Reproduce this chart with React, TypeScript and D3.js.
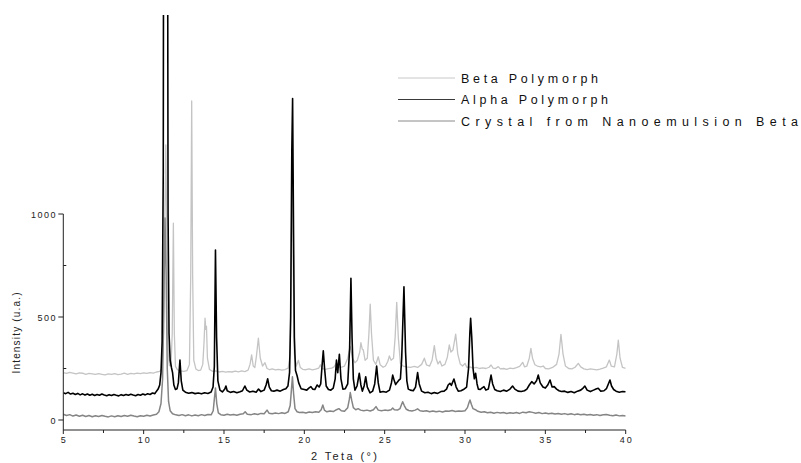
import React from "react";
import * as d3 from "d3";

// 2θ (degrees) / intensity (u.a.) pairs for each diffractogram
const betaPolymorph: [number, number][] = [
  [5.0,230],[5.2,226],[5.4,231],[5.6,228],[5.8,224],[6.0,229],[6.2,227],[6.4,222],[6.6,226],[6.8,224],[7.0,221],[7.2,225],[7.4,222],[7.6,219],[7.8,224],[8.0,221],[8.2,225],[8.4,220],[8.6,223],[8.8,227],[9.0,222],[9.2,226],[9.4,224],[9.6,228],[9.8,225],[10.0,229],[10.2,226],[10.4,230],[10.6,228],[10.8,233],[11.0,236],[11.15,250],[11.25,420],[11.32,1000],[11.38,1335],[11.44,900],[11.5,380],[11.6,265],[11.7,262],[11.78,420],[11.85,955],[11.91,420],[11.98,260],[12.1,244],[12.3,238],[12.5,236],[12.7,240],[12.85,270],[12.93,700],[12.99,1549],[13.05,700],[13.12,290],[13.25,248],[13.4,240],[13.55,242],[13.68,270],[13.76,380],[13.82,494],[13.87,440],[13.91,455],[13.97,300],[14.1,245],[14.3,236],[14.5,238],[14.7,233],[14.9,236],[15.1,232],[15.3,235],[15.5,233],[15.7,237],[15.9,234],[16.1,238],[16.3,235],[16.5,242],[16.62,270],[16.72,316],[16.82,262],[16.92,255],[17.02,310],[17.14,397],[17.26,300],[17.4,262],[17.55,278],[17.68,250],[17.85,244],[18.0,248],[18.2,243],[18.4,246],[18.6,242],[18.8,245],[19.0,252],[19.12,320],[19.2,900],[19.25,1200],[19.3,800],[19.38,320],[19.5,262],[19.63,290],[19.75,255],[19.9,246],[20.1,244],[20.3,248],[20.5,243],[20.7,247],[20.9,252],[21.0,268],[21.1,250],[21.3,246],[21.5,249],[21.7,252],[21.85,258],[22.0,277],[22.12,258],[22.3,256],[22.5,262],[22.7,300],[22.86,356],[23.0,300],[23.15,278],[23.3,290],[23.45,330],[23.52,375],[23.6,345],[23.67,340],[23.78,290],[23.92,300],[24.02,420],[24.1,562],[24.18,420],[24.3,290],[24.45,270],[24.6,307],[24.72,268],[24.9,256],[25.05,262],[25.2,285],[25.29,311],[25.4,290],[25.55,300],[25.65,400],[25.75,571],[25.85,400],[25.98,275],[26.15,262],[26.35,258],[26.6,255],[26.85,260],[27.05,255],[27.3,270],[27.47,300],[27.6,268],[27.8,262],[27.95,290],[28.09,361],[28.2,300],[28.32,272],[28.44,286],[28.56,262],[28.75,270],[28.9,305],[29.02,364],[29.12,330],[29.25,340],[29.42,417],[29.55,320],[29.7,272],[29.85,262],[30.0,275],[30.12,255],[30.3,258],[30.5,252],[30.7,255],[30.9,250],[31.1,253],[31.3,250],[31.5,256],[31.62,267],[31.75,252],[31.9,250],[32.07,259],[32.2,248],[32.4,250],[32.6,246],[32.8,252],[33.0,249],[33.2,254],[33.4,260],[33.59,280],[33.7,258],[33.85,262],[34.0,300],[34.1,348],[34.2,300],[34.35,268],[34.5,262],[34.7,258],[34.87,262],[35.0,250],[35.2,248],[35.45,255],[35.7,270],[35.85,320],[35.97,416],[36.1,320],[36.25,262],[36.45,250],[36.65,248],[36.85,256],[37.05,275],[37.2,258],[37.4,248],[37.6,245],[37.8,248],[38.0,246],[38.2,243],[38.4,247],[38.6,252],[38.8,258],[38.98,291],[39.1,262],[39.3,258],[39.45,320],[39.54,388],[39.65,300],[39.8,255],[40.0,251],
];

const alphaPolymorph: [number, number][] = [
  [5.0,132],[5.15,128],[5.3,134],[5.45,126],[5.6,130],[5.75,124],[5.9,129],[6.05,122],[6.2,127],[6.35,121],[6.5,126],[6.65,120],[6.8,125],[6.95,119],[7.1,124],[7.25,120],[7.4,126],[7.55,121],[7.7,118],[7.85,123],[8.0,119],[8.15,124],[8.3,120],[8.45,117],[8.6,123],[8.75,119],[8.9,124],[9.05,120],[9.2,125],[9.35,121],[9.5,118],[9.65,124],[9.8,120],[9.95,126],[10.1,122],[10.25,127],[10.4,124],[10.55,131],[10.7,128],[10.8,140],[10.9,150],[11.0,170],[11.08,230],[11.15,380],[11.22,1200],[11.25,3000],[11.48,3000],[11.52,1000],[11.58,420],[11.65,290],[11.73,255],[11.8,230],[11.88,170],[11.98,148],[12.08,152],[12.16,180],[12.26,291],[12.34,190],[12.44,145],[12.6,135],[12.8,130],[13.0,133],[13.2,128],[13.4,131],[13.6,127],[13.8,132],[14.0,129],[14.2,136],[14.32,160],[14.4,260],[14.47,825],[14.54,400],[14.62,190],[14.75,145],[14.9,136],[15.05,150],[15.12,165],[15.2,142],[15.4,134],[15.6,138],[15.8,132],[16.0,137],[16.15,142],[16.3,165],[16.42,145],[16.6,136],[16.8,140],[17.0,135],[17.15,150],[17.3,138],[17.5,145],[17.62,170],[17.72,200],[17.82,160],[17.95,142],[18.1,140],[18.3,145],[18.5,140],[18.7,148],[18.85,152],[18.98,165],[19.08,230],[19.15,500],[19.22,1300],[19.27,1561],[19.33,900],[19.38,400],[19.45,240],[19.55,215],[19.65,180],[19.8,152],[20.0,148],[20.15,145],[20.28,155],[20.41,162],[20.52,150],[20.65,148],[20.8,170],[20.92,160],[21.02,175],[21.1,260],[21.18,336],[21.26,250],[21.36,165],[21.5,148],[21.65,145],[21.8,155],[21.92,200],[22.0,291],[22.08,230],[22.18,319],[22.28,200],[22.4,150],[22.55,152],[22.7,175],[22.82,350],[22.9,688],[22.97,400],[23.05,200],[23.15,145],[23.28,165],[23.42,227],[23.52,170],[23.61,140],[23.72,165],[23.82,210],[23.92,160],[24.09,132],[24.25,140],[24.38,175],[24.5,262],[24.6,180],[24.71,135],[24.9,138],[25.1,135],[25.3,145],[25.42,180],[25.5,218],[25.6,190],[25.68,172],[25.8,185],[25.89,194],[25.98,200],[26.06,300],[26.2,647],[26.3,330],[26.38,190],[26.47,150],[26.6,145],[26.78,142],[26.92,160],[27.05,230],[27.15,175],[27.3,140],[27.5,132],[27.7,135],[27.9,128],[28.1,133],[28.3,129],[28.5,138],[28.7,140],[28.85,150],[28.95,170],[29.06,178],[29.15,168],[29.31,199],[29.45,160],[29.58,140],[29.75,142],[29.9,148],[30.1,160],[30.22,250],[30.3,420],[30.35,494],[30.42,400],[30.5,250],[30.58,200],[30.66,227],[30.75,175],[30.83,150],[30.95,148],[31.05,155],[31.18,162],[31.3,145],[31.45,150],[31.55,190],[31.62,218],[31.72,175],[31.85,148],[32.0,142],[32.2,138],[32.4,145],[32.6,140],[32.8,150],[32.96,165],[33.1,150],[33.3,140],[33.5,138],[33.7,142],[33.85,150],[34.0,170],[34.15,186],[34.3,175],[34.45,190],[34.56,218],[34.68,180],[34.85,160],[35.0,155],[35.15,170],[35.29,194],[35.42,160],[35.55,162],[35.7,150],[35.85,142],[36.0,138],[36.2,140],[36.4,134],[36.6,138],[36.8,132],[37.0,140],[37.2,145],[37.35,155],[37.46,165],[37.6,145],[37.8,138],[38.0,145],[38.15,150],[38.29,154],[38.45,140],[38.65,142],[38.8,152],[38.92,175],[39.02,194],[39.12,165],[39.25,148],[39.4,140],[39.6,135],[39.8,138],[40.0,137],
];

const crystalNanoemulsionBeta: [number, number][] = [
  [5.0,28],[5.2,22],[5.4,26],[5.6,19],[5.8,24],[6.0,18],[6.2,23],[6.4,17],[6.6,22],[6.8,16],[7.0,21],[7.2,17],[7.4,22],[7.6,18],[7.8,15],[8.0,20],[8.2,16],[8.4,21],[8.6,17],[8.8,22],[9.0,18],[9.2,23],[9.4,19],[9.6,16],[9.8,21],[10.0,18],[10.2,23],[10.4,19],[10.6,24],[10.8,28],[10.95,40],[11.08,80],[11.18,200],[11.26,600],[11.33,980],[11.4,700],[11.47,250],[11.55,90],[11.65,45],[11.8,30],[12.0,25],[12.2,22],[12.4,26],[12.6,21],[12.8,25],[13.0,20],[13.2,24],[13.4,21],[13.6,26],[13.8,22],[14.0,27],[14.2,25],[14.33,45],[14.41,110],[14.47,155],[14.55,80],[14.65,35],[14.8,26],[15.0,23],[15.2,28],[15.4,24],[15.6,27],[15.8,23],[16.0,28],[16.2,30],[16.32,40],[16.45,28],[16.7,26],[16.9,30],[17.1,27],[17.3,32],[17.5,30],[17.68,48],[17.8,33],[18.0,30],[18.2,34],[18.4,31],[18.6,35],[18.8,32],[19.0,40],[19.12,70],[19.2,150],[19.26,210],[19.33,130],[19.42,55],[19.55,40],[19.7,36],[19.9,38],[20.1,34],[20.3,39],[20.5,36],[20.7,40],[20.9,38],[21.05,50],[21.15,73],[21.25,48],[21.4,40],[21.6,44],[21.8,41],[22.0,50],[22.15,55],[22.3,45],[22.5,42],[22.7,60],[22.8,100],[22.86,133],[22.95,95],[23.05,60],[23.2,50],[23.35,55],[23.5,48],[23.7,45],[23.9,48],[24.1,44],[24.3,50],[24.46,65],[24.6,48],[24.8,45],[25.0,48],[25.2,46],[25.4,50],[25.5,58],[25.6,50],[25.8,48],[25.95,55],[26.05,75],[26.12,89],[26.22,70],[26.35,52],[26.5,46],[26.7,44],[26.9,48],[27.05,54],[27.2,45],[27.4,42],[27.6,45],[27.8,40],[28.0,44],[28.2,40],[28.4,43],[28.6,39],[28.8,44],[29.0,42],[29.2,46],[29.4,41],[29.6,44],[29.8,42],[30.0,45],[30.15,60],[30.25,85],[30.31,97],[30.4,75],[30.5,55],[30.65,50],[30.8,42],[31.0,38],[31.2,40],[31.4,35],[31.6,38],[31.8,33],[32.0,37],[32.2,34],[32.4,36],[32.6,32],[32.8,35],[33.0,33],[33.2,36],[33.4,32],[33.6,38],[33.8,35],[34.0,40],[34.2,37],[34.4,33],[34.6,36],[34.8,31],[35.0,34],[35.2,30],[35.4,33],[35.6,29],[35.8,32],[36.0,28],[36.2,31],[36.4,27],[36.6,30],[36.8,26],[37.0,29],[37.2,25],[37.4,28],[37.6,24],[37.8,27],[38.0,23],[38.2,26],[38.4,22],[38.6,25],[38.8,27],[39.0,23],[39.2,21],[39.4,24],[39.6,20],[39.8,22],[40.0,19],
];

const xMajorTicks = [5, 10, 15, 20, 25, 30, 35, 40];
const xMinorTicks = [7.5, 12.5, 17.5, 22.5, 27.5, 32.5, 37.5];
const yMajorTicks = [0, 500, 1000];
const yMinorTicks = [250, 750];

const seriesNames = ["Beta Polymorph", "Alpha Polymorph", "Crystal from Nanoemulsion Beta"];

const W = 801;
const H = 463;
const FONT = "'Liberation Sans', Arial, Helvetica, sans-serif";

export default function App() {
  const x = d3.scaleLinear().domain([5, 40]).range([63.3, 625.7]);
  const y = d3.scaleLinear().domain([0, 1000]).range([420, 214]);
  const axisY = 430;
  const plotTop = 15;

  const line = d3
    .line<[number, number]>()
    .x((d) => x(d[0]))
    .y((d) => y(d[1]));

  const series = [
    { name: seriesNames[0], data: betaPolymorph, color: "#c4c4c4", width: 1.3, legendColor: "#c8c8c8" },
    { name: seriesNames[2], data: crystalNanoemulsionBeta, color: "#858585", width: 1.5, legendColor: "#8a8a8a" },
    { name: seriesNames[1], data: alphaPolymorph, color: "#000000", width: 1.6, legendColor: "#3a3a3a" },
  ];

  const legendRows = [
    { name: seriesNames[0], color: "#c8c8c8", len: 137 },
    { name: seriesNames[1], color: "#3a3a3a", len: 147 },
    { name: seriesNames[2], color: "#8a8a8a", len: 337 },
  ];

  const x0 = x(5);
  const x1 = x(40);

  return (
    <svg
      width={W}
      height={H}
      viewBox={`0 0 ${W} ${H}`}
      style={{ position: "absolute", left: 0, top: 0, background: "#fff" }}
      fontFamily={FONT}
    >
      <defs>
        <clipPath id="plotClip">
          <rect x={x0} y={plotTop} width={x1 - x0} height={axisY - plotTop} />
        </clipPath>
      </defs>

      {/* diffractograms */}
      <g clipPath="url(#plotClip)" fill="none" strokeLinejoin="round">
        {series.map((s) => (
          <path key={s.name} d={line(s.data) || ""} stroke={s.color} strokeWidth={s.width} />
        ))}
      </g>

      {/* x axis */}
      <g stroke="#222" strokeWidth={1}>
        <line x1={x0} x2={x1} y1={axisY} y2={axisY} />
        {xMajorTicks.map((t) => (
          <line key={`xM${t}`} x1={x(t)} x2={x(t)} y1={axisY} y2={axisY + 4} />
        ))}
        {xMinorTicks.map((t) => (
          <line key={`xm${t}`} x1={x(t)} x2={x(t)} y1={axisY} y2={axisY + 3} />
        ))}
      </g>
      <g fontSize={9} fill="#222" textAnchor="middle" letterSpacing={2}>
        {xMajorTicks.map((t) => (
          <text key={`xl${t}`} x={x(t) + 1} y={443}>
            {t}
          </text>
        ))}
      </g>
      <text x={344} y={460} fontSize={11} fill="#222" textAnchor="middle" textLength={66} lengthAdjust="spacing">
        2 Teta (°)
      </text>

      {/* y axis */}
      <g stroke="#222" strokeWidth={1}>
        <line x1={x0} x2={x0} y1={axisY} y2={y(1000)} />
        {yMajorTicks.map((t) => (
          <line key={`yM${t}`} x1={x0 - 5} x2={x0} y1={y(t)} y2={y(t)} />
        ))}
        {yMinorTicks.map((t) => (
          <line key={`ym${t}`} x1={x0} x2={x0 + 3} y1={y(t)} y2={y(t)} />
        ))}
      </g>
      <g fontSize={9} fill="#222" textAnchor="end" letterSpacing={1.5}>
        {yMajorTicks.map((t) => (
          <text key={`yl${t}`} x={57} y={y(t) + 3.5}>
            {t}
          </text>
        ))}
      </g>
      <text
        transform={`translate(20,333) rotate(-90)`}
        fontSize={10}
        fill="#222"
        textAnchor="middle"
        textLength={81}
        lengthAdjust="spacing"
      >
        Intensity (u.a.)
      </text>

      {/* legend */}
      <g>
        {legendRows.map((r, i) => {
          const ly = 78 + i * 21.5;
          return (
            <g key={r.name}>
              <line x1={398} x2={455} y1={ly} y2={ly} stroke={r.color} strokeWidth={1} />
              <text
                x={461}
                y={ly + 4.5}
                fontSize={12.5}
                fill="#111"
                textLength={r.len}
                lengthAdjust="spacing"
              >
                {r.name}
              </text>
            </g>
          );
        })}
      </g>
    </svg>
  );
}
